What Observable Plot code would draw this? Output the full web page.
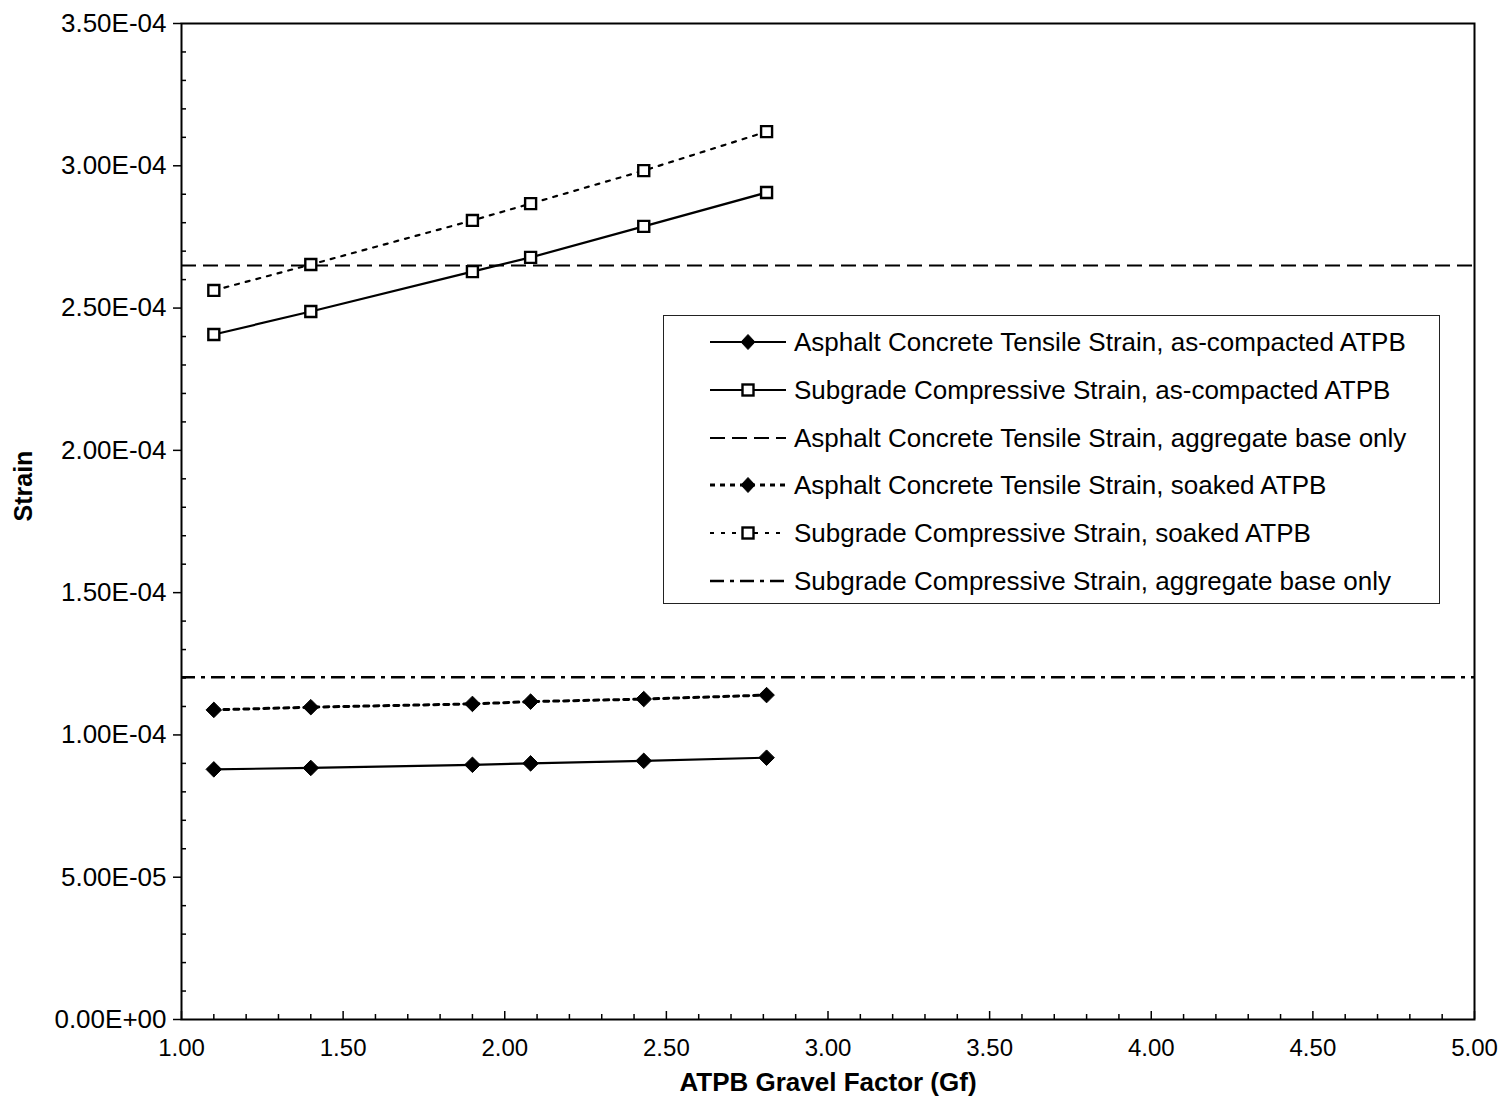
<!DOCTYPE html>
<html>
<head>
<meta charset="utf-8">
<script src="https://cdn.jsdelivr.net/npm/d3@7"></script>
<script src="https://cdn.jsdelivr.net/npm/@observablehq/plot@0.6"></script>
<style>
  html, body { margin: 0; padding: 0; background: #fff; }
  #wrap { position: relative; width: 1506px; height: 1116px; font-family: "Liberation Sans", Arial, sans-serif; }
  #legend { position: absolute; left: 663px; top: 315px; width: 775px; height: 287px; border: 1px solid #222; background: #fff; }
  .row { position: absolute; left: 0; height: 30px; display: flex; align-items: center; }
  .row svg { margin-left: 46px; }
  .row span { margin-left: 8px; font-size: 26px; color: #000; white-space: nowrap; }
</style>
</head>
<body>
<div id="wrap"></div>
<script>
// ---- data ----
const gravelFactor = [1.10, 1.40, 1.90, 2.08, 2.43, 2.81];
const acTensileCompacted = [8.79e-5, 8.84e-5, 8.95e-5, 9.00e-5, 9.09e-5, 9.20e-5];
const subgradeCompacted  = [2.407e-4, 2.488e-4, 2.628e-4, 2.678e-4, 2.787e-4, 2.906e-4];
const acTensileSoaked    = [1.088e-4, 1.0975e-4, 1.109e-4, 1.117e-4, 1.126e-4, 1.140e-4];
const subgradeSoaked     = [2.562e-4, 2.653e-4, 2.808e-4, 2.867e-4, 2.983e-4, 3.120e-4];
const acTensileAggBase   = 2.650e-4;
const subgradeAggBase    = 1.203e-4;

const xTicks = [1.0, 1.5, 2.0, 2.5, 3.0, 3.5, 4.0, 4.5, 5.0];
const yTicks = [0, 5e-5, 1e-4, 1.5e-4, 2e-4, 2.5e-4, 3e-4, 3.5e-4];
const xDomain = [1, 5];
const yDomain = [0, 3.5e-4];

const legendLabels = [
  "Asphalt Concrete Tensile Strain, as-compacted ATPB",
  "Subgrade Compressive Strain, as-compacted ATPB",
  "Asphalt Concrete Tensile Strain, aggregate base only",
  "Asphalt Concrete Tensile Strain, soaked ATPB",
  "Subgrade Compressive Strain, soaked ATPB",
  "Subgrade Compressive Strain, aggregate base only"
];

// ---- helpers ----
const sciFmt = d => {
  const [m, e] = d.toExponential(2).split("e");
  const n = +e;
  return m + "E" + (n < 0 ? "-" : "+") + String(Math.abs(n)).padStart(2, "0");
};
const series = vals => gravelFactor.map((x, i) => ({x, y: vals[i]}));
const xMinor = d3.range(1, 5.0001, 0.1).filter(v => Math.abs(v * 2 - Math.round(v * 2)) > 1e-6);
const xMajor = xTicks;
const yMinor = d3.range(0, 3.5e-4 + 1e-12, 1e-5).filter(v => Math.abs(v / 5e-5 - Math.round(v / 5e-5)) > 1e-6);

const DASH = "15,7";
const DASHDOT = "14,6,4,6";
const DOT_AC = "5,5";
const DOT_SG = "4,7";

const chart = Plot.plot({
  width: 1506,
  height: 1116,
  marginLeft: 181,
  marginRight: 32,
  marginTop: 23,
  marginBottom: 97,
  style: {fontFamily: "'Liberation Sans', Arial, sans-serif", background: "#fff", color: "#000"},
  x: {domain: xDomain, label: null},
  y: {domain: yDomain, label: null},
  marks: [
    // reference lines
    Plot.ruleY([acTensileAggBase], {stroke: "black", strokeWidth: 2, strokeDasharray: DASH}),
    Plot.ruleY([subgradeAggBase], {stroke: "black", strokeWidth: 2.5, strokeDasharray: DASHDOT}),
    // series lines
    Plot.line(series(acTensileCompacted), {x: "x", y: "y", stroke: "black", strokeWidth: 2.2}),
    Plot.line(series(subgradeCompacted), {x: "x", y: "y", stroke: "black", strokeWidth: 2.2}),
    Plot.line(series(acTensileSoaked), {x: "x", y: "y", stroke: "black", strokeWidth: 3, strokeDasharray: DOT_AC}),
    Plot.line(series(subgradeSoaked), {x: "x", y: "y", stroke: "black", strokeWidth: 2.2, strokeDasharray: DOT_SG}),
    // markers
    Plot.dot(series(acTensileCompacted), {x: "x", y: "y", symbol: "diamond2", r: 7, fill: "black", stroke: "black", strokeWidth: 1}),
    Plot.dot(series(acTensileSoaked), {x: "x", y: "y", symbol: "diamond2", r: 7, fill: "black", stroke: "black", strokeWidth: 1}),
    Plot.dot(series(subgradeCompacted), {x: "x", y: "y", symbol: "square", r: 6.2, fill: "white", stroke: "black", strokeWidth: 2.4}),
    Plot.dot(series(subgradeSoaked), {x: "x", y: "y", symbol: "square", r: 6.2, fill: "white", stroke: "black", strokeWidth: 2.4}),
    // frame
    Plot.frame({stroke: "black", strokeWidth: 2}),
    // axes
    Plot.axisY(yTicks, {tickSize: 8, tickPadding: 7, tickFormat: sciFmt, fontSize: 26, strokeWidth: 1.5, label: null}),
    Plot.axisX(xTicks, {tickSize: 0, tickPadding: 19, tickFormat: d3.format(".2f"), fontSize: 24, label: null}),
    // inward ticks
    Plot.ruleY(yMinor, {y: d => d, x1: xDomain[0], x2: xDomain[0], insetRight: -5, stroke: "black", strokeWidth: 1.5}),
    Plot.ruleX(xMinor, {x: d => d, y1: yDomain[0], y2: yDomain[0], insetTop: -5, stroke: "black", strokeWidth: 1.5}),
    Plot.ruleX(xMajor, {x: d => d, y1: yDomain[0], y2: yDomain[0], insetTop: -8, stroke: "black", strokeWidth: 1.5}),
    // axis titles
    Plot.text(["Strain"], {frameAnchor: "left", dx: -158, rotate: -90, text: d => d, fontSize: 25, fontWeight: "bold", fill: "black"}),
    Plot.text(["ATPB Gravel Factor (Gf)"], {frameAnchor: "bottom", dy: 71, text: d => d, fontSize: 26, fontWeight: "bold", fill: "black"})
  ]
});

const wrap = document.getElementById("wrap");
wrap.appendChild(chart);

// ---- legend ----
const styles = [
  {dash: null, sym: "diamond", w: 2.2},
  {dash: null, sym: "square", w: 2.2},
  {dash: DASH, sym: null, w: 2.2},
  {dash: DOT_AC, sym: "diamond", w: 3},
  {dash: DOT_SG, sym: "square", w: 2.2},
  {dash: DASHDOT, sym: null, w: 2.5}
];
const legend = document.createElement("div");
legend.id = "legend";
const rowCenters = [26, 74, 122, 169, 217, 265];
legendLabels.forEach((label, i) => {
  const s = styles[i];
  const row = document.createElement("div");
  row.className = "row";
  row.style.top = (rowCenters[i] - 15) + "px";
  let sym = "";
  if (s.sym === "diamond") sym = `<path d="M38,7.5 L45,15 L38,22.5 L31,15 Z" fill="black" stroke="black"/>`;
  if (s.sym === "square") sym = `<rect x="32.5" y="9.5" width="11" height="11" fill="white" stroke="black" stroke-width="2.4"/>`;
  row.innerHTML = `<svg width="76" height="30"><line x1="0" y1="15" x2="76" y2="15" stroke="black" stroke-width="${s.w}" ${s.dash ? `stroke-dasharray="${s.dash}"` : ""}/>${sym}</svg><span>${label}</span>`;
  legend.appendChild(row);
});
wrap.appendChild(legend);
</script>
</body>
</html>
